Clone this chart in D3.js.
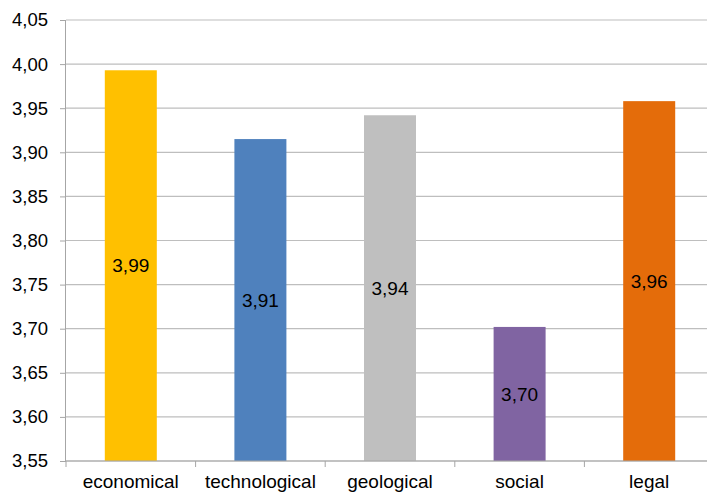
<!DOCTYPE html>
<html><head><meta charset="utf-8">
<script src="https://cdn.jsdelivr.net/npm/d3@7"></script>
<style>body{margin:0;background:#fff;overflow:hidden}svg{display:block}text{font-family:"Liberation Sans",Arial,sans-serif;fill:#000}</style>
</head><body><svg id="c" width="707" height="495"></svg>
<script>
const categories = ["economical","technological","geological","social","legal"];
const values = [3.993, 3.915, 3.942, 3.702, 3.958];
const labels = ["3,99","3,91","3,94","3,70","3,96"];
const colors = ["#FFC000","#4F81BD","#BFBFBF","#8064A2","#E46C0A"];
const yTicks = [3.55,3.60,3.65,3.70,3.75,3.80,3.85,3.90,3.95,4.00,4.05];

(function(){
const svg = d3.select("#c");
const mL = 66, mR = 714, mT = 20, mB = 461;
const x = d3.scaleBand().domain(categories).range([mL, mR]).paddingInner(0).paddingOuter(0);
const y = d3.scaleLinear().domain([3.55, 4.05]).range([mB, mT]);
const fmt = d => d.toFixed(2).replace(".", ",");

// gridlines
svg.append("g").selectAll("line").data(yTicks).join("line")
  .attr("x1", mL).attr("x2", 707).attr("y1", d => y(d)).attr("y2", d => y(d))
  .attr("stroke", "#BEBEBE").attr("stroke-width", 1.2);

// y axis
const ya = svg.append("g").attr("transform", `translate(${mL},0)`)
  .call(d3.axisLeft(y).tickValues(yTicks).tickFormat(fmt).tickSize(6).tickPadding(12));
ya.select(".domain").attr("stroke", "#A6A6A6").attr("d", `M-0.5,${mT}V${mB}`);
ya.selectAll(".tick line").attr("stroke", "#A6A6A6");
ya.selectAll(".tick text").attr("font-size", 18.5).attr("fill", "#000")
  .attr("font-family", "Liberation Sans, Arial, sans-serif");

// bars
const bw = 52;
svg.append("g").selectAll("rect").data(categories).join("rect")
  .attr("x", d => x(d) + x.bandwidth()/2 - bw/2)
  .attr("width", bw)
  .attr("y", (d,i) => y(values[i]))
  .attr("height", (d,i) => y(3.55) - y(values[i]))
  .attr("fill", (d,i) => colors[i]);

// x axis
svg.append("line").attr("x1", mL).attr("x2", 707).attr("y1", mB).attr("y2", mB)
  .attr("stroke", "#A6A6A6").attr("stroke-width", 1.2);
const bounds = categories.map(c => x(c)).concat([mR]);
svg.append("g").selectAll("line").data(bounds).join("line")
  .attr("x1", d => d).attr("x2", d => d).attr("y1", mB).attr("y2", mB + 6)
  .attr("stroke", "#A6A6A6");
svg.append("g").selectAll("text").data(categories).join("text")
  .attr("x", d => x(d) + x.bandwidth()/2).attr("y", 488)
  .attr("text-anchor", "middle").attr("font-size", 19).text(d => d);

// value labels
svg.append("g").selectAll("text").data(categories).join("text")
  .attr("x", d => x(d) + x.bandwidth()/2)
  .attr("y", (d,i) => (y(values[i]) + y(3.55)) / 2)
  .attr("dy", "0.35em")
  .attr("text-anchor", "middle").attr("font-size", 19).text((d,i) => labels[i]);
})();
</script></body></html>
